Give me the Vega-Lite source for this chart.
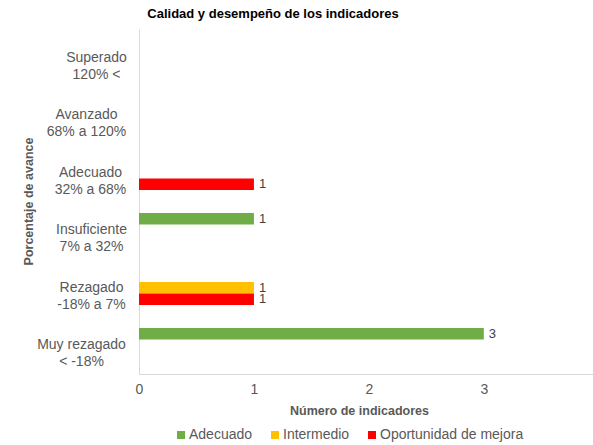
{
  "$schema": "https://vega.github.io/schema/vega-lite/v6.json",
  "autosize": {"type": "none"},
  "padding": {"left": 139, "top": 29, "right": 0, "bottom": 71},
  "width": 454,
  "height": 345,
  "background": "white",
  "config": {
    "font": "Liberation Sans",
    "view": {"stroke": null}
  },
  "title": {
    "text": "Calidad y desempeño de los indicadores",
    "font": "Liberation Sans",
    "fontSize": 13,
    "fontWeight": "bold",
    "color": "#000000",
    "anchor": "middle",
    "dx": -93,
    "offset": 8
  },
  "data": {
    "values": [
      {"cat": "Adecuado|32% a 68%", "serie": "Oportunidad de mejora", "n": 1},
      {"cat": "Insuficiente|7% a 32%", "serie": "Adecuado", "n": 1},
      {"cat": "Rezagado|-18% a 7%", "serie": "Intermedio", "n": 1},
      {"cat": "Rezagado|-18% a 7%", "serie": "Oportunidad de mejora", "n": 1},
      {"cat": "Muy rezagado|< -18%", "serie": "Adecuado", "n": 3}
    ]
  },
  "encoding": {
    "y": {
      "field": "cat",
      "type": "nominal",
      "scale": {
        "domain": ["Superado|120% <", "Avanzado|68% a 120%", "Adecuado|32% a 68%", "Insuficiente|7% a 32%", "Rezagado|-18% a 7%", "Muy rezagado|< -18%"],
        "paddingInner": 0,
        "paddingOuter": 0
      },
      "axis": {
        "title": "Porcentaje de avance",
        "titleFont": "Liberation Sans",
        "titleFontSize": 12.5,
        "titleFontWeight": "bold",
        "titleColor": "#595959",
        "titleAngle": -90,
        "titleX": -111,
        "titleY": 172,
        "titleAlign": "center",
        "titleBaseline": "middle",
        "labelExpr": "split(datum.label, '|')",
        "labelFont": "Liberation Sans",
        "labelFontSize": 14,
        "labelColor": "#595959",
        "labelAlign": "center",
        "labelBaseline": "middle",
        "labelLineHeight": 17,
        "labelPadding": {
          "condition": [
            {"test": "datum.value == 'Superado|120% <'", "value": 43},
            {"test": "datum.value == 'Avanzado|68% a 120%'", "value": 53},
            {"test": "datum.value == 'Adecuado|32% a 68%'", "value": 49},
            {"test": "datum.value == 'Insuficiente|7% a 32%'", "value": 48},
            {"test": "datum.value == 'Rezagado|-18% a 7%'", "value": 48}
          ],
          "value": 58
        },
        "ticks": false,
        "domainColor": "#d9d9d9",
        "domainWidth": 1,
        "grid": false
      }
    },
    "yOffset": {
      "field": "serie",
      "type": "nominal",
      "scale": {"domain": ["Adecuado", "Intermedio", "Oportunidad de mejora"], "paddingInner": 0, "paddingOuter": 1}
    },
    "x": {
      "field": "n",
      "type": "quantitative",
      "scale": {"domain": [0, 3.95], "nice": false},
      "axis": {
        "values": [0, 1, 2, 3],
        "title": "Número de indicadores",
        "titleFont": "Liberation Sans",
        "titleFontSize": 12.5,
        "titleFontWeight": "bold",
        "titleColor": "#595959",
        "titleX": 220,
        "titleY": 36,
        "titleAlign": "center",
        "titleBaseline": "middle",
        "labelFont": "Liberation Sans",
        "labelFontSize": 14,
        "labelColor": "#595959",
        "labelPadding": 8,
        "labelFlush": false,
        "ticks": false,
        "grid": false,
        "domainColor": "#d9d9d9",
        "domainWidth": 1
      }
    }
  },
  "layer": [
    {
      "mark": {"type": "bar"},
      "encoding": {
        "color": {
          "field": "serie",
          "type": "nominal",
          "scale": {"domain": ["Adecuado", "Intermedio", "Oportunidad de mejora"], "range": ["#70AD47", "#FFC000", "#FF0000"]},
          "legend": {
            "title": null,
            "orient": "none",
            "direction": "horizontal",
            "legendX": 35,
            "legendY": 399,
            "symbolType": "square",
            "symbolSize": 64,
            "symbolStrokeWidth": 0,
            "labelFont": "Liberation Sans",
            "labelFontSize": 14,
            "labelColor": "#595959",
            "labelOffset": 1,
            "columnPadding": 15
          }
        }
      }
    },
    {
      "mark": {"type": "text", "align": "left", "baseline": "middle", "dx": 5, "font": "Liberation Sans", "fontSize": 13, "color": "#404040"},
      "encoding": {"text": {"field": "n", "type": "quantitative"}}
    }
  ]
}
